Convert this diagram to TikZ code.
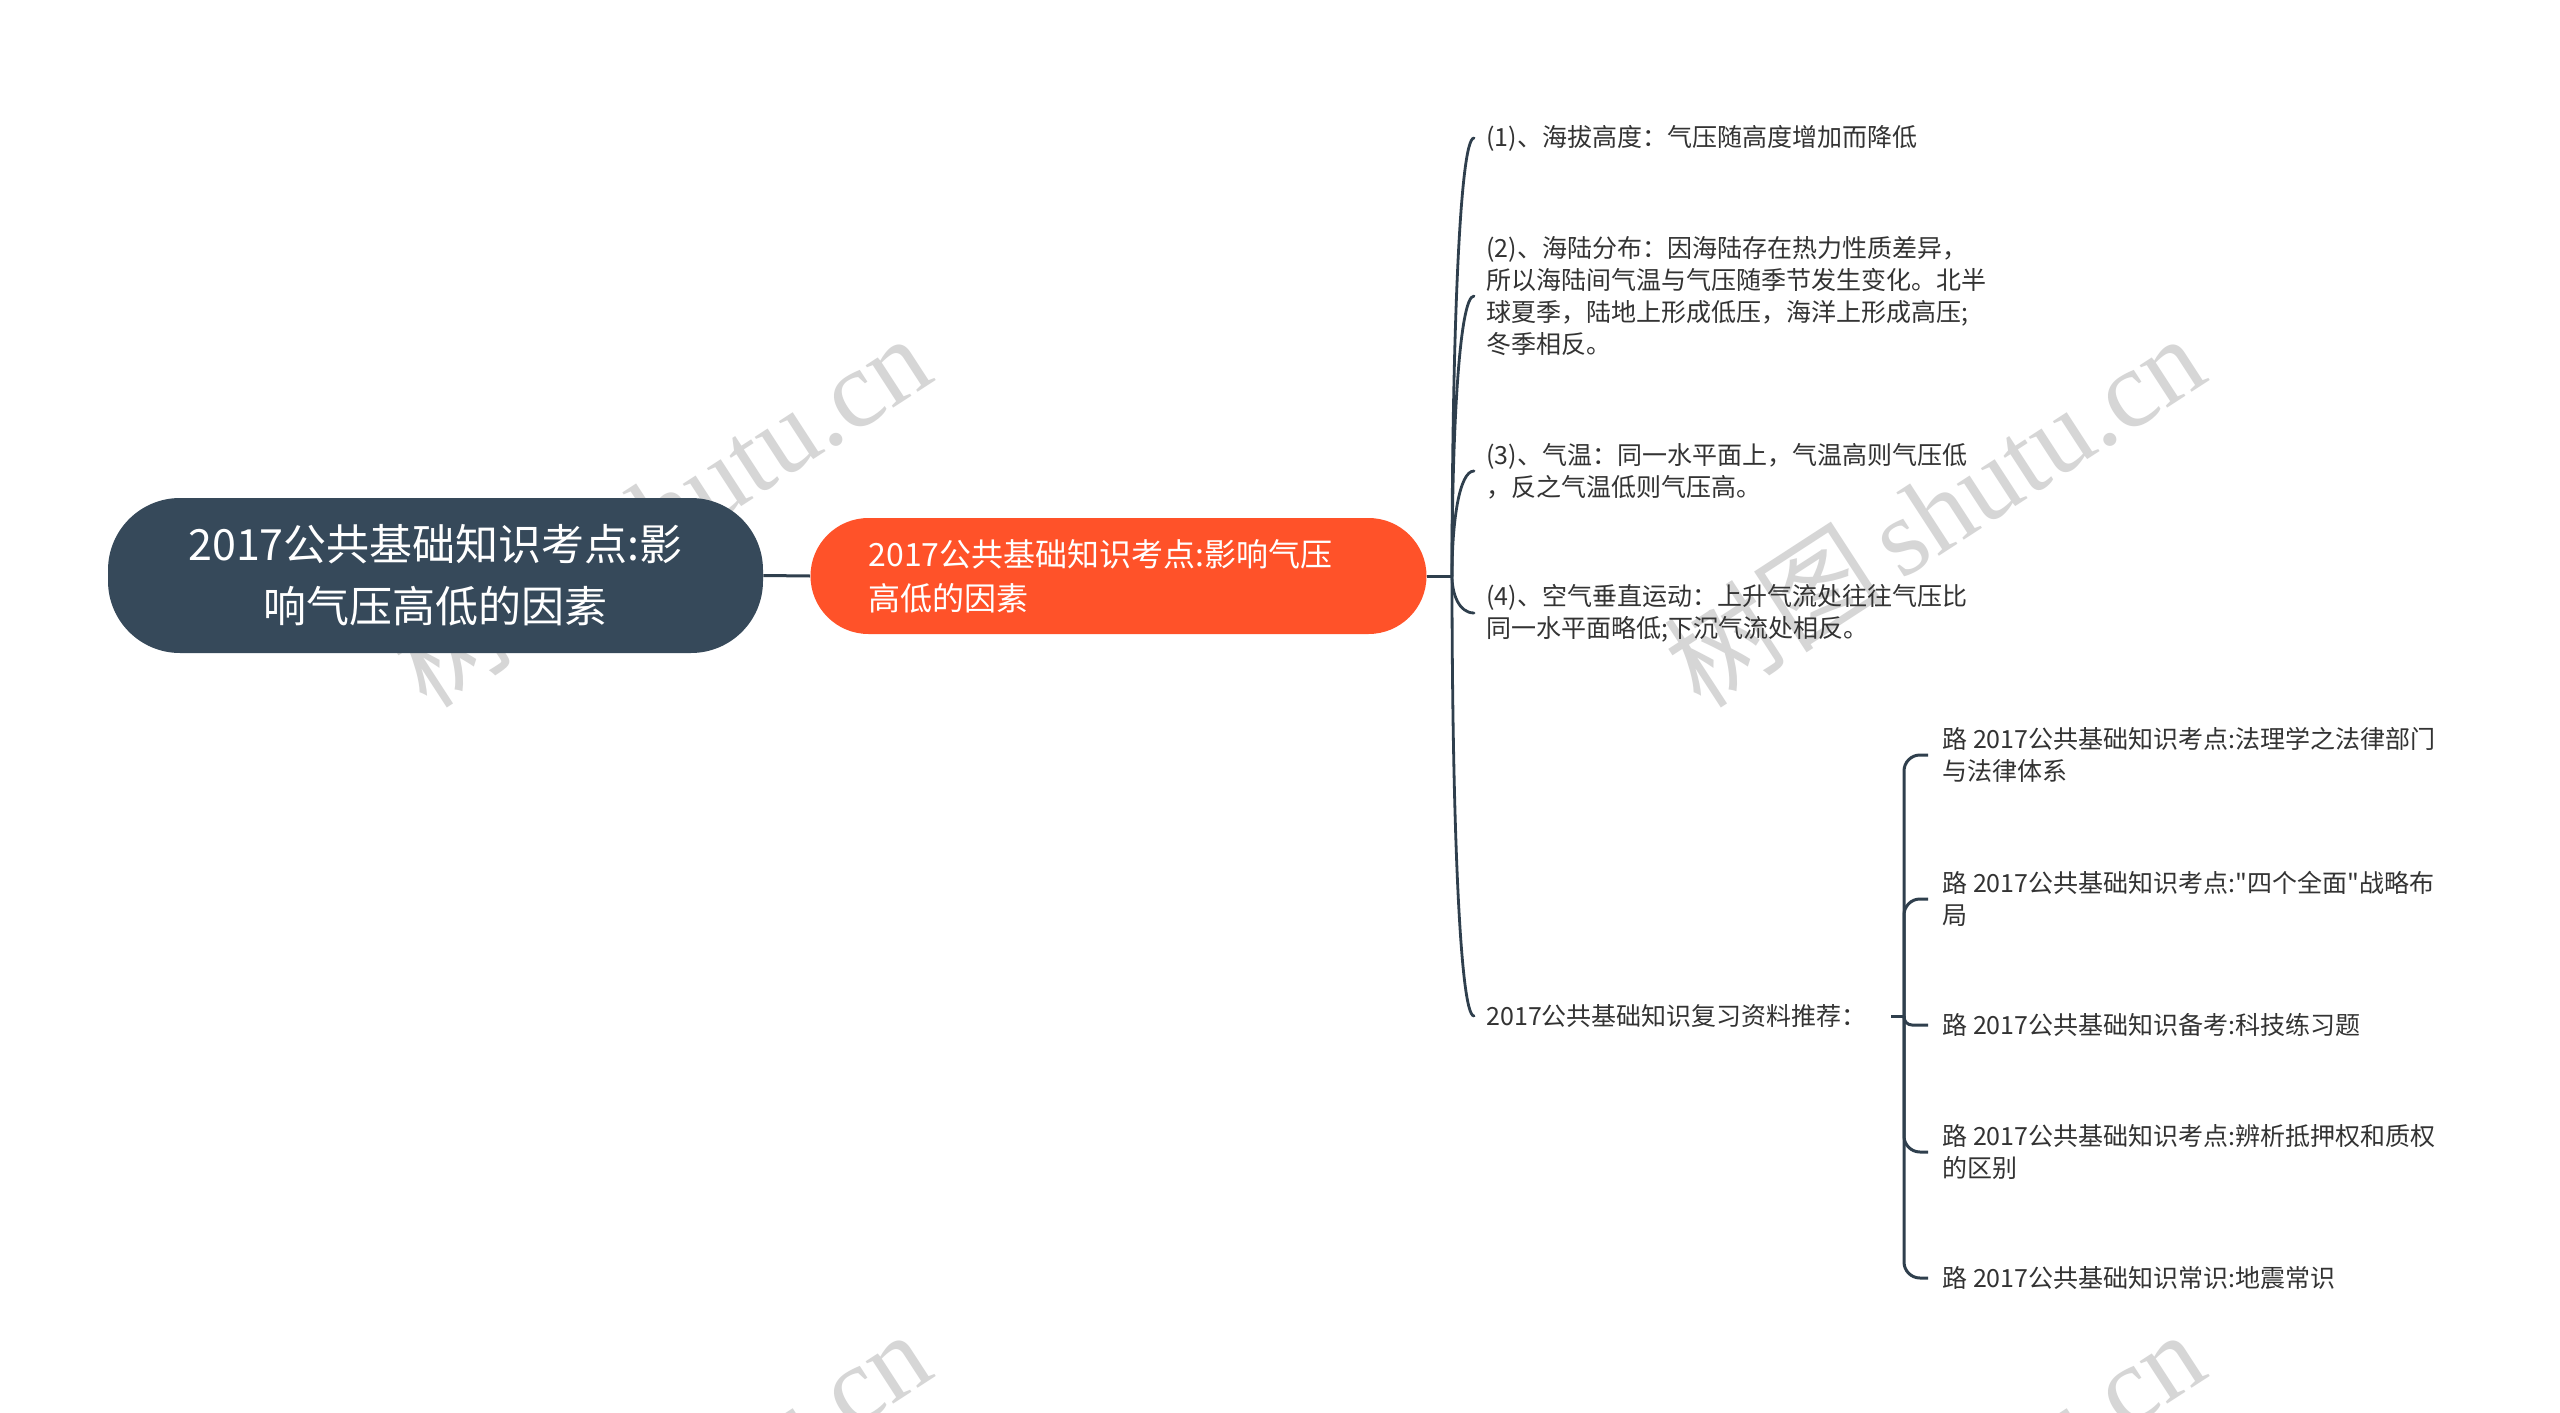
\documentclass[tikz,border=0pt]{standalone}
\usepackage{fontspec}
\setmainfont{Noto Sans CJK SC}
\newfontfamily\wmserif{Liberation Serif}
\newfontfamily\wmcjk{Noto Sans CJK SC}
\newcommand\straightq{\XeTeXglyph\XeTeXcharglyph"22\relax}
\definecolor{rootc}{HTML}{36495A}
\definecolor{orangec}{HTML}{FF5229}
\definecolor{linec}{HTML}{2F3F4D}
\definecolor{txtc}{HTML}{333333}
\definecolor{wmc}{HTML}{D6D6D6}
\tikzset{
  rootbox/.style={draw=none, fill=rootc, rounded corners=36pt, text=white, align=center,
    minimum width=327.5pt, minimum height=77.5pt, inner sep=0pt,
    font={\fontsize{21.5}{31}\selectfont}},
  mainbox/.style={draw=none, fill=orangec, rounded corners=29pt, text=white, align=left,
    text width=250pt, inner xsep=29pt, inner ysep=0pt, minimum height=58pt,
    font={\fontsize{16}{22}\selectfont}},
  leaf/.style={anchor=west, align=left, text=txtc, inner xsep=6pt, inner ysep=0pt,
    font={\fontsize{12.5}{16}\selectfont}},
  subleaf/.style={anchor=west, align=left, text=txtc, inner xsep=7pt, inner ysep=0pt,
    font={\fontsize{12.5}{16}\selectfont}},
  conn/.style={draw=linec, line width=1.5pt},
  branch/.style={draw=linec, line width=1.4pt, line cap=round},
  wm/.style={text=wmc, inner sep=0pt, rotate=33, font={\fontsize{55}{60}\selectfont}}
}
\begin{document}
\begin{tikzpicture}[x=0.5pt,y=-0.5pt]
\useasboundingbox (0,0) rectangle (2560,1413);
\fill[white] (0,0) rectangle (2560,1413);
% watermarks
\begin{scope}
\clip (0,0) rectangle (2560,1413);
\node[wm] (wm1) at (660,510) {\wmcjk 树图\,\wmserif shutu.cn};
\node[wm] (wm2) at (1934,510) {\wmcjk 树图\,\wmserif shutu.cn};
\node[wm] (wm3) at (660,1506) {\wmcjk 树图\,\wmserif shutu.cn};
\node[wm] (wm4) at (1934,1506) {\wmcjk 树图\,\wmserif shutu.cn};
\end{scope}
% nodes
\node[rootbox] (root) at (435.5,575.5) {2017公共基础知识考点:影\\响气压高低的因素};
\node[mainbox] (ctr) at (1118.5,576) {2017公共基础知识考点:影响气压\\高低的因素};
\node[leaf] (c1) at (1474,138) {(1)、海拔高度：气压随高度增加而降低};
\node[leaf] (c2) at (1474,296) {(2)、海陆分布：因海陆存在热力性质差异，\\所以海陆间气温与气压随季节发生变化。北半\\球夏季，陆地上形成低压，海洋上形成高压;\\冬季相反。};
\node[leaf] (c3) at (1474,471) {(3)、气温：同一水平面上，气温高则气压低\\，反之气温低则气压高。};
\node[leaf] (c4) at (1474,613) {(4)、空气垂直运动：上升气流处往往气压比\\同一水平面略低;下沉气流处相反。};
\node[leaf] (c5) at (1474,1016) {2017公共基础知识复习资料推荐：};
\node[subleaf] (s1) at (1928,755) {路 2017公共基础知识考点:法理学之法律部门\\与法律体系};
\node[subleaf] (s2) at (1928,899) {路 2017公共基础知识考点:\straightq 四个全面\straightq 战略布\\局};
\node[subleaf] (s3) at (1928,1025) {路 2017公共基础知识备考:科技练习题};
\node[subleaf] (s4) at (1928,1152) {路 2017公共基础知识考点:辨析抵押权和质权\\的区别};
\node[subleaf] (s5) at (1928,1278) {路 2017公共基础知识常识:地震常识};
% connectors
\coordinate (j1) at (1452,576);
\coordinate (k1) at (1904,1016);
\draw[conn] (root.east) -- (ctr.west);
\draw[conn] (ctr.east) -- (j1);
\draw[branch] (j1) .. controls (1452,357) and (1459,138) .. (c1.west);
\draw[branch] (j1) .. controls (1452,436) and (1459,296) .. (c2.west);
\draw[branch] (j1) .. controls (1452,523) and (1459,471) .. (c3.west);
\draw[branch] (j1) .. controls (1452,594) and (1459,613) .. (c4.west);
\draw[branch] (j1) .. controls (1452,796) and (1459,1016) .. (c5.west);
\draw[conn] ([xshift=6pt]c5.east) -- (k1);
\draw[conn, rounded corners=8pt] (k1) |- (s1.west);
\draw[conn, rounded corners=8pt] (k1) |- (s2.west);
\draw[conn, rounded corners=4pt] (k1) |- (s3.west);
\draw[conn, rounded corners=8pt] (k1) |- (s4.west);
\draw[conn, rounded corners=8pt] (k1) |- (s5.west);
\end{tikzpicture}
\end{document}
